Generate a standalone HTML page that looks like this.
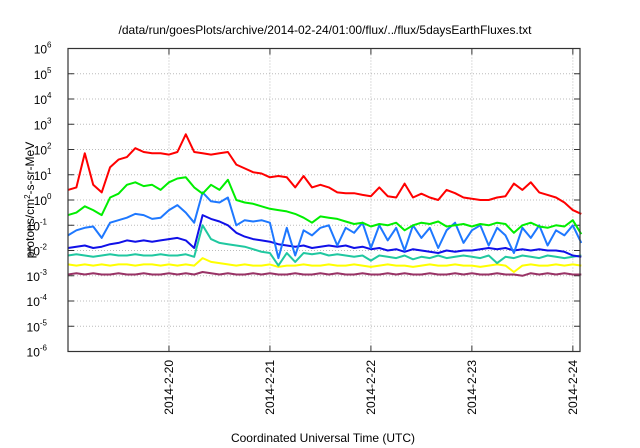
<!DOCTYPE html>
<html><head><meta charset="utf-8"><style>
body{margin:0;background:#fff;}
svg{display:block;font-family:"Liberation Sans",sans-serif;}
</style></head><body>
<svg id="chart" width="640" height="448" viewBox="0 0 640 448">
<text x="325" y="34" font-size="12" text-anchor="middle">/data/run/goesPlots/archive/2014-02-24/01:00/flux/../flux/5daysEarthFluxes.txt</text>
<text transform="translate(34,200) rotate(-90)" font-size="12" text-anchor="middle">protons/cm<tspan baseline-shift="super" font-size="8">2</tspan>-s-sr-MeV</text>
<text x="323" y="442" font-size="12" text-anchor="middle">Coordinated Universal Time (UTC)</text>
<g id="grid"></g><g id="ticks"></g><g id="series"></g>
<rect x="68" y="48.5" width="512" height="303" fill="none" stroke="#333" stroke-width="1.2"/>
</svg>
<script>
const hours=[];for(let h=0;h<=122;h+=2)hours.push(h);
const yTickExps=[-6,-5,-4,-3,-2,-1,0,1,2,3,4,5,6];
const xTickLabels=["2014-2-20","2014-2-21","2014-2-22","2014-2-23","2014-2-24"];
const xTickHours=[24,48,72,96,120];
const red=[0.4,0.5,1.85,0.6,0.3,1.3,1.6,1.7,2.05,1.9,1.85,1.85,1.8,1.9,2.6,1.9,1.85,1.8,1.85,1.9,1.4,1.25,1.1,1.05,0.9,0.95,0.9,0.5,0.95,0.5,0.6,0.5,0.3,0.27,0.27,0.2,0.15,0.5,0.15,0.1,0.65,0.1,0.25,0.1,0.0,0.4,0.27,0.1,0.05,0.0,0.0,0.1,0.15,0.65,0.4,0.7,0.3,0.2,0.1,-0.1,-0.4,-0.55];
const green=[-0.6,-0.5,-0.25,-0.4,-0.6,0.1,0.25,0.6,0.7,0.55,0.6,0.4,0.7,0.85,0.9,0.5,0.25,0.6,0.4,0.8,0.0,-0.1,-0.15,-0.25,-0.35,-0.4,-0.45,-0.55,-0.7,-0.9,-0.65,-0.7,-0.75,-0.85,-0.95,-0.9,-1.05,-0.95,-1.0,-0.9,-1.2,-1.0,-0.9,-0.95,-0.85,-1.05,-1.0,-0.95,-1.05,-0.95,-1.0,-0.9,-0.95,-1.3,-1.0,-0.9,-1.05,-1.1,-1.0,-1.05,-0.8,-1.35];
const lightBlue=[-1.4,-1.2,-1.1,-1.05,-1.5,-0.9,-0.8,-0.7,-0.55,-0.6,-0.75,-0.7,-0.4,-0.2,-0.5,-0.9,0.3,-0.05,-0.1,0.1,-1.0,-0.8,-0.85,-0.8,-0.9,-2.3,-1.1,-2.2,-1.2,-1.4,-1.1,-1.0,-1.8,-1.1,-1.3,-0.9,-1.9,-1.0,-1.6,-1.1,-2.0,-1.0,-1.5,-1.1,-1.9,-1.2,-0.9,-1.7,-1.2,-1.0,-1.8,-1.1,-1.4,-2.1,-1.1,-1.5,-1.0,-1.8,-1.2,-1.4,-1.0,-1.7];
const blue=[-1.9,-1.85,-1.8,-1.9,-1.85,-1.75,-1.7,-1.6,-1.65,-1.6,-1.65,-1.6,-1.55,-1.5,-1.6,-1.9,-0.6,-0.75,-0.85,-1.0,-1.3,-1.45,-1.55,-1.6,-1.65,-1.75,-1.8,-1.85,-1.8,-1.9,-1.85,-1.8,-1.85,-1.8,-1.9,-1.85,-1.95,-1.9,-2.0,-1.95,-2.05,-1.95,-2.0,-2.05,-2.1,-2.0,-2.05,-2.0,-2.0,-1.95,-1.9,-1.95,-1.9,-2.0,-1.95,-2.0,-1.95,-2.0,-2.0,-2.05,-2.2,-2.25];
const teal=[-2.2,-2.15,-2.2,-2.25,-2.2,-2.15,-2.2,-2.2,-2.15,-2.2,-2.2,-2.15,-2.2,-2.2,-2.15,-2.25,-1.0,-1.55,-1.7,-1.75,-1.8,-1.85,-1.95,-2.05,-2.1,-2.6,-2.1,-2.45,-2.1,-2.15,-2.1,-2.2,-2.15,-2.2,-2.25,-2.2,-2.4,-2.2,-2.25,-2.3,-2.2,-2.35,-2.25,-2.3,-2.2,-2.3,-2.25,-2.2,-2.25,-2.3,-2.2,-2.5,-2.25,-2.3,-2.2,-2.25,-2.3,-2.2,-2.25,-2.3,-2.25,-2.2];
const yellow=[-2.55,-2.6,-2.55,-2.6,-2.55,-2.6,-2.55,-2.55,-2.6,-2.55,-2.55,-2.6,-2.55,-2.6,-2.55,-2.6,-2.3,-2.45,-2.5,-2.55,-2.6,-2.55,-2.6,-2.6,-2.55,-2.65,-2.6,-2.6,-2.55,-2.6,-2.6,-2.55,-2.6,-2.6,-2.55,-2.6,-2.65,-2.6,-2.55,-2.6,-2.6,-2.65,-2.6,-2.55,-2.6,-2.6,-2.55,-2.6,-2.6,-2.65,-2.6,-2.55,-2.6,-2.85,-2.6,-2.55,-2.6,-2.6,-2.55,-2.6,-2.55,-2.6];
const purple=[-2.95,-2.9,-2.95,-2.9,-2.95,-2.95,-2.9,-2.95,-2.95,-2.9,-2.95,-2.95,-2.9,-2.95,-2.9,-2.95,-2.85,-2.9,-2.95,-2.9,-2.95,-2.95,-2.9,-2.95,-2.9,-2.95,-2.95,-2.9,-2.95,-2.95,-2.9,-2.95,-2.9,-2.95,-2.95,-2.9,-2.95,-2.95,-2.9,-2.95,-2.9,-2.95,-2.95,-2.9,-2.95,-2.95,-2.9,-2.95,-2.9,-2.95,-2.95,-2.9,-2.95,-2.95,-3.0,-2.9,-2.95,-2.9,-2.95,-2.9,-2.95,-2.95];
const NS='http://www.w3.org/2000/svg';
const X0=68,X1=580,Y0=48.5,Y1=351.5,HMAX=121.7;
const xs=h=>X0+h/HMAX*(X1-X0);
const ys=v=>Y0+(6-v)/12*(Y1-Y0);
function mk(tag,attrs,parent){const e=document.createElementNS(NS,tag);for(const k in attrs)e.setAttribute(k,attrs[k]);parent.appendChild(e);return e;}
const grid=document.getElementById('grid'),ticks=document.getElementById('ticks'),ser=document.getElementById('series');
yTickExps.forEach(ex=>{const y=ys(ex);
 if(ex>-6&&ex<6){const g=mk('line',{x1:X0,x2:X1,y1:y,y2:y,stroke:'#bbb','stroke-dasharray':'1,2'},grid);
 
 }
 const t=mk('path',{d:`M${X0},${y}h6M${X1},${y}h-6`,stroke:'#333'},ticks);
 
 
 const tx=mk('text',{x:60,y:y+5,'font-size':'12','text-anchor':'end'},ticks);
 
 
 tx.textContent='10';
 const sp=mk('tspan',{dy:'-6','font-size':'8'},tx);sp.textContent=String(ex);
 tx.setAttribute('x',52-String(ex).length*4.5+4);tx.setAttribute('text-anchor','end');
});
xTickHours.forEach((h,i)=>{const x=xs(h);
 const g=mk('line',{x1:x,x2:x,y1:Y0,y2:Y1,stroke:'#bbb','stroke-dasharray':'1,2'},grid);
 
 
 const t=mk('path',{d:`M${x},${Y1}v-6M${x},${Y0}v6`,stroke:'#333'},ticks);
 
 
 const tx=mk('text',{transform:`translate(${x+4},360) rotate(-90)`,'font-size':'12','text-anchor':'end'},ticks);
 
 
 tx.textContent=xTickLabels[i];
});
const seriesList=[[purple,'#993366','purple'],[yellow,'#ffff00','yellow'],[teal,'#20c8a0','teal'],[blue,'#1010e8','blue'],[lightBlue,'#1e78ff','light-blue'],[green,'#00ee00','green'],[red,'#ff0000','red']];
seriesList.forEach(([vals,col,nm])=>{
 const d=vals.map((v,i)=>(i?'L':'M')+xs(hours[i]).toFixed(1)+','+ys(v).toFixed(1)).join('');
 const p=mk('path',{d:d,fill:'none',stroke:col,'stroke-width':'2','stroke-linejoin':'round'},ser);
 
 
});
</script>
</body></html>
